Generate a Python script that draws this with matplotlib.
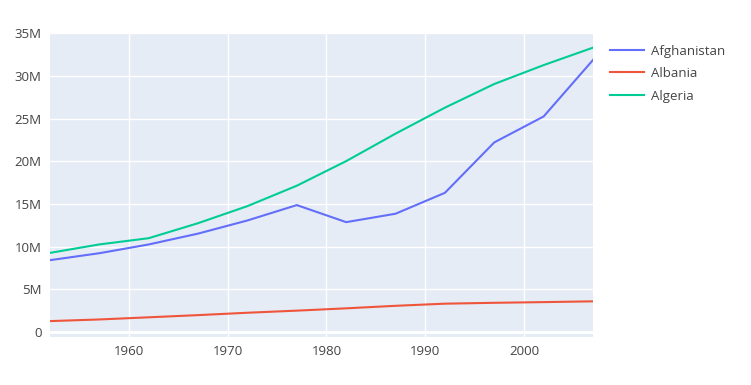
import matplotlib.pyplot as plt
from matplotlib.ticker import FuncFormatter

plt.rcParams['font.family'] = ['Open Sans', 'DejaVu Sans']

years = [1952, 1957, 1962, 1967, 1972, 1977, 1982, 1987, 1992, 1997, 2002, 2007]
afghanistan = [8425333, 9240934, 10267083, 11537966, 13079460, 14880372,
               12881816, 13867957, 16317921, 22227415, 25268405, 31889923]
albania = [1282697, 1476505, 1728137, 1984060, 2263554, 2509048,
           2780097, 3075321, 3326498, 3428038, 3508512, 3600523]
algeria = [9279525, 10270856, 11000948, 12760499, 14760787, 17152804,
           20033753, 23254956, 26298373, 29072015, 31287142, 33333216]

series = [('Afghanistan', afghanistan, '#636efa'),
          ('Albania', albania, '#EF553B'),
          ('Algeria', algeria, '#00cc96')]

W, H = 751, 385
fig = plt.figure(figsize=(W / 100, H / 100), dpi=100)
ax = fig.add_axes([50 / W, (H - 337) / H, 543 / W, 304 / H])
ax.set_facecolor('#E5ECF6')

for name, vals, col in series:
    ax.plot(years, vals, color=col, lw=1.5, label=name, zorder=3)

ax.set_xlim(1952, 2007)
ax.set_ylim(-0.58e6, 35.05e6)
ax.set_xticks([1960, 1970, 1980, 1990, 2000])
ax.set_yticks([0, 5e6, 10e6, 15e6, 20e6, 25e6, 30e6, 35e6])
ax.yaxis.set_major_formatter(FuncFormatter(lambda v, p: '0' if v == 0 else '%dM' % round(v / 1e6)))
ax.grid(True, color='white', lw=1, zorder=1)
ax.axhline(0, color='white', lw=2, zorder=2)
for s in ax.spines.values():
    s.set_visible(False)
ax.tick_params(length=0, labelsize=9.5, colors='#444444', pad=6)

leg = ax.legend(loc='upper left', bbox_to_anchor=(1.015, 0.99), frameon=False,
                fontsize=9.5, handlelength=2.6, handletextpad=0.5,
                labelspacing=0.72, borderaxespad=0.25)
for t in leg.get_texts():
    t.set_color('#444444')

fig.savefig('out.png', dpi=100)
